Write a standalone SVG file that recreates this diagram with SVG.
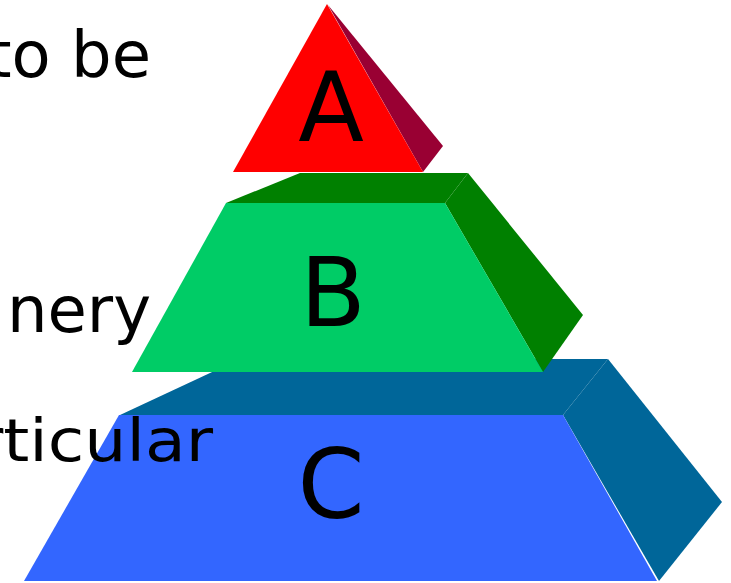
<svg xmlns="http://www.w3.org/2000/svg" width="731" height="583" viewBox="0 0 731 583">
<style>
.lbl{font-family:"DejaVu Sans",Verdana,sans-serif;fill:#000}
.big{font-size:96px;text-anchor:middle}
.side{text-anchor:end}
</style>
<rect width="731" height="583" fill="#fff"/>
<g id="layer-C">
<polygon points="120,415 240,359 608,359 563,415" fill="#006699"/>
<polygon points="563,415 608,359 722,502 659,581" fill="#006699"/>
<polygon points="119,415 563,415 657,581 24,581" fill="#3366FF"/>
<text class="lbl big" x="331" y="518">C</text>
</g>
<g id="layer-B">
<polygon points="226,203 300,173 468,173 445,203" fill="#008000"/>
<polygon points="445,203 468,173 583,315 543,372" fill="#008000"/>
<polygon points="226,203 445,203 543,372 132,372" fill="#00CC66"/>
<text class="lbl big" x="333" y="326">B</text>
</g>
<g id="layer-A">
<polygon points="328,5 443,146 423,172" fill="#990033"/>
<polygon points="327,4 423,172 233,172" fill="#FF0000"/>
<text class="lbl big" x="331" y="141">A</text>
</g>
<g id="texts">
<text class="lbl side" x="151" y="77" font-size="64">to be</text>
<text class="lbl side" x="151" y="332" font-size="64">nery</text>
<text class="lbl" x="-24" y="461" font-size="58" textLength="237" lengthAdjust="spacingAndGlyphs">rticular</text>
</g>
</svg>
